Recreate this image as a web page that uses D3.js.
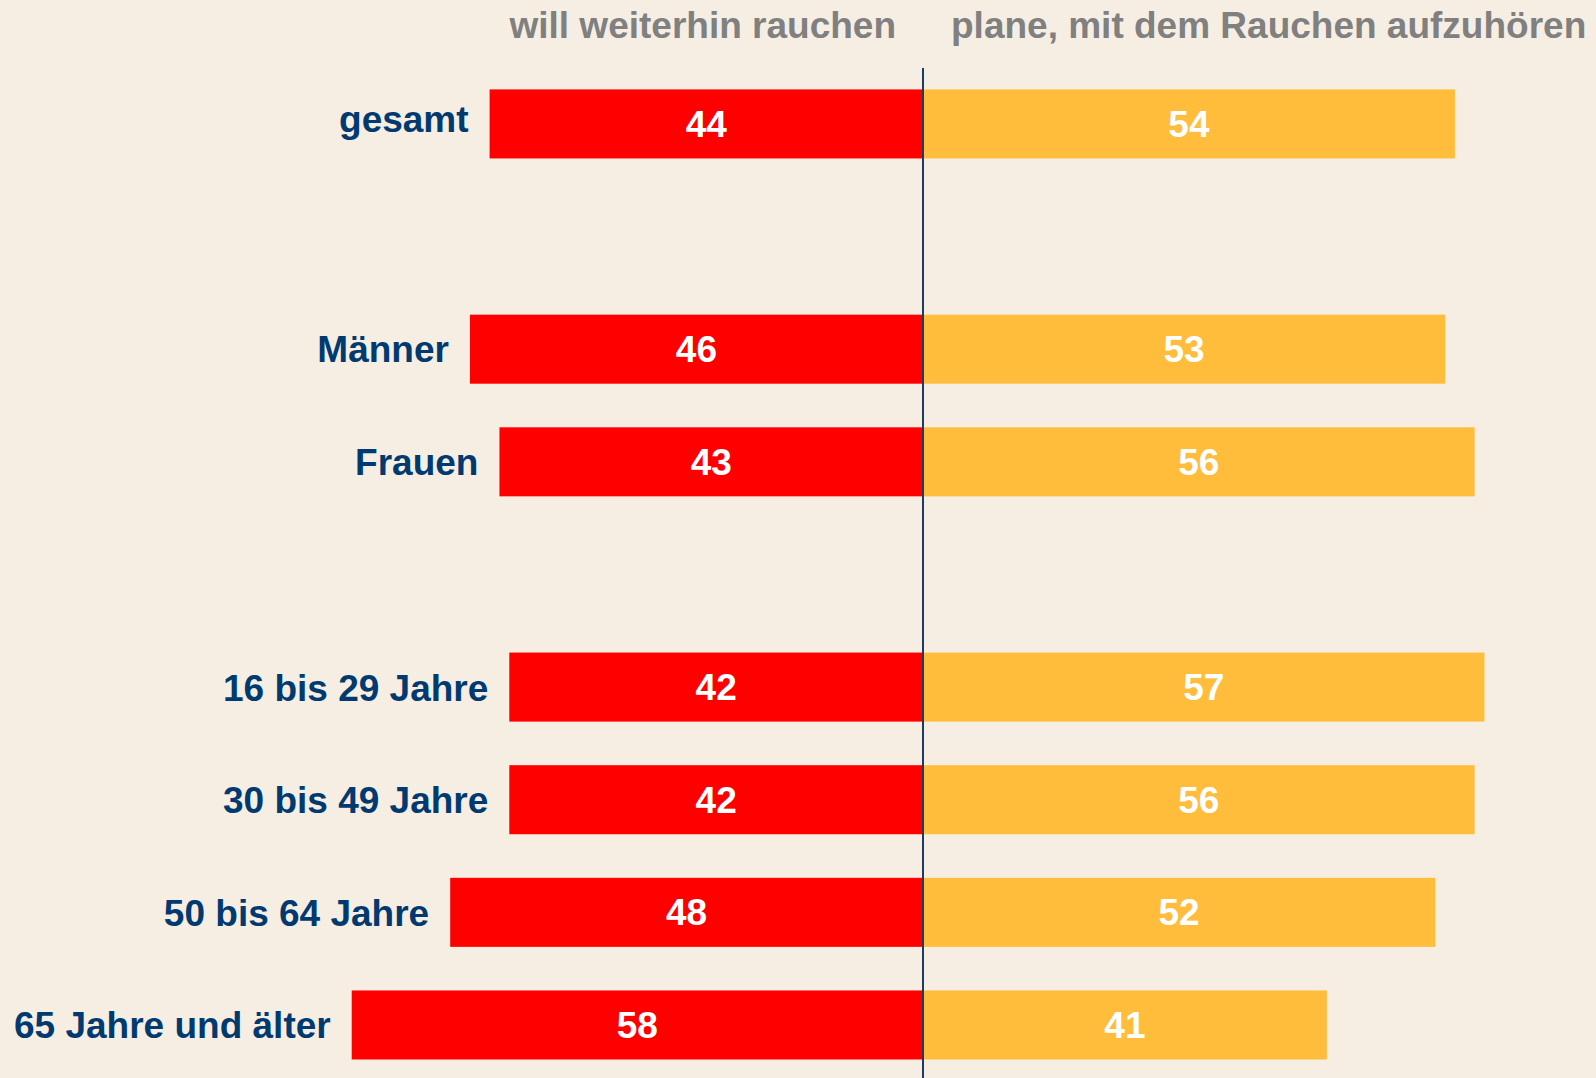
<!DOCTYPE html>
<html>
<head>
<meta charset="utf-8">
<script src="https://cdn.jsdelivr.net/npm/d3@7"></script>
<style>
  html, body { margin: 0; padding: 0; background: #f6eee3; }
  svg { display: block; }
  text { font-family: "Liberation Sans", Arial, Helvetica, sans-serif; font-weight: bold; }
</style>
</head>
<body>
<svg id="chart" width="1596" height="1078"></svg>
<script>
// ---- data ----
const categories = ["gesamt", "Männer", "Frauen", "16 bis 29 Jahre", "30 bis 49 Jahre", "50 bis 64 Jahre", "65 Jahre und älter"];
const groups = [0, 1, 1, 2, 2, 2, 2];
const weiterRauchen = [44, 46, 43, 42, 42, 48, 58];
const aufhoeren = [54, 53, 56, 57, 56, 52, 41];
const seriesNames = ["will weiterhin rauchen", "plane, mit dem Rauchen aufzuhören"];

// ---- layout ----
const W = 1596, H = 1078;
const cx = 923;
const FONT = 'bold 37px "Liberation Sans", Arial, sans-serif';
const colLeft = "#ff0000", colRight = "#ffbd3b";
const labelBlue = "#003a70", headGray = "#808080", axisCol = "#1c3d63";

const svg = d3.select("#chart");
svg.append("rect").attr("width", W).attr("height", H).attr("fill", "#f6eee3");

const slots = categories.map((c, i) => i + groups[i]);
const y = d3.scaleBand()
  .domain(d3.range(d3.max(slots) + 1))
  .range([89.4, 1059.5])
  .paddingInner(0.387)
  .paddingOuter(0);

const x = d3.scaleLinear().domain([0, 60]).range([0, 591]);

// measure ink extents for vertical centering
const ctx = document.createElement("canvas").getContext("2d");
ctx.font = FONT;
function baselineOffset(t) {
  const m = ctx.measureText(t);
  return (m.actualBoundingBoxAscent - m.actualBoundingBoxDescent) / 2;
}

const rows = categories.map((c, i) => ({
  cat: c, slot: slots[i], left: weiterRauchen[i], right: aufhoeren[i]
}));

// left bars
svg.append("g").selectAll("rect").data(rows).join("rect")
  .attr("x", d => cx - x(d.left))
  .attr("y", d => y(d.slot))
  .attr("width", d => x(d.left))
  .attr("height", y.bandwidth())
  .attr("fill", colLeft);

// right bars
svg.append("g").selectAll("rect").data(rows).join("rect")
  .attr("x", cx)
  .attr("y", d => y(d.slot))
  .attr("width", d => x(d.right))
  .attr("height", y.bandwidth())
  .attr("fill", colRight);

// value labels
const vl = svg.append("g").attr("fill", "#ffffff").style("font-size", "37px");
vl.selectAll("text.l").data(rows).join("text").attr("class", "l")
  .attr("x", d => cx - x(d.left) / 2)
  .attr("y", d => y(d.slot) + y.bandwidth() / 2 + baselineOffset(String(d.left)))
  .attr("text-anchor", "middle")
  .text(d => d.left);
vl.selectAll("text.r").data(rows).join("text").attr("class", "r")
  .attr("x", d => cx + x(d.right) / 2)
  .attr("y", d => y(d.slot) + y.bandwidth() / 2 + baselineOffset(String(d.right)))
  .attr("text-anchor", "middle")
  .text(d => d.right);

// category labels
svg.append("g").attr("fill", labelBlue).style("font-size", "37px")
  .selectAll("text").data(rows).join("text")
  .attr("x", d => cx - x(d.left) - 21)
  .attr("y", d => y(d.slot) + y.bandwidth() / 2 + baselineOffset(d.cat))
  .attr("text-anchor", "end")
  .text(d => d.cat);

// center line
svg.append("line")
  .attr("x1", cx).attr("x2", cx)
  .attr("y1", 68).attr("y2", H)
  .attr("stroke", axisCol).attr("stroke-width", 2);

// headers
const hd = svg.append("g").attr("fill", headGray).style("font-size", "37px");
hd.append("text").attr("x", cx - 27).attr("y", 38).attr("text-anchor", "end").text(seriesNames[0]);
hd.append("text").attr("x", cx + 28).attr("y", 38).attr("text-anchor", "start").text(seriesNames[1]);
</script>
</body>
</html>
